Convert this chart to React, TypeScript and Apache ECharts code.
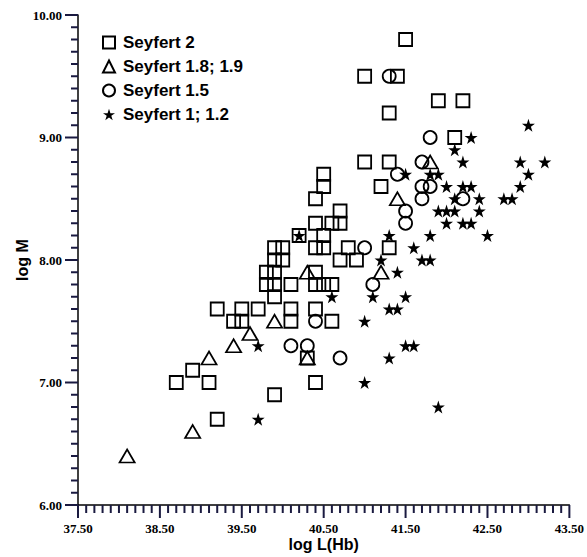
import React, { useEffect, useRef } from "react";
import * as echarts from "echarts";

const seriesNames = ["Seyfert 2", "Seyfert 1.8; 1.9", "Seyfert 1.5", "Seyfert 1; 1.2"];

const seyfert2: number[][] = [
  [41.5, 9.8], [41.0, 9.5], [41.4, 9.5], [41.3, 9.2], [41.9, 9.3], [42.2, 9.3],
  [42.1, 9.0], [41.0, 8.8], [41.3, 8.8], [41.2, 8.6], [40.5, 8.7], [40.5, 8.6],
  [40.4, 8.5], [40.7, 8.4], [40.4, 8.3], [40.6, 8.3], [40.7, 8.3], [40.2, 8.2],
  [40.5, 8.2], [40.4, 8.1], [40.5, 8.1], [40.8, 8.1], [40.7, 8.0], [40.9, 8.0],
  [41.3, 8.1], [39.9, 8.1], [40.0, 8.1], [39.9, 8.0], [40.0, 8.0], [39.8, 7.9],
  [39.9, 7.9], [39.8, 7.8], [39.9, 7.8], [40.1, 7.8], [39.9, 7.7], [40.4, 7.9],
  [40.4, 7.8], [40.5, 7.8], [40.6, 7.8], [40.1, 7.6], [40.1, 7.5], [40.4, 7.6],
  [40.6, 7.5], [39.7, 7.6], [39.2, 7.6], [39.5, 7.6], [39.4, 7.5], [39.5, 7.5],
  [40.3, 7.2], [40.4, 7.0], [39.9, 6.9], [38.9, 7.1], [38.7, 7.0], [39.1, 7.0],
  [39.2, 6.7],
];

const seyfert18: number[][] = [
  [41.8, 8.8], [41.4, 8.5], [40.3, 7.9], [41.2, 7.9], [39.9, 7.5], [39.6, 7.4],
  [39.4, 7.3], [39.1, 7.2], [40.3, 7.2], [38.9, 6.6], [38.1, 6.4],
];

const seyfert15: number[][] = [
  [41.3, 9.5], [41.8, 9.0], [41.7, 8.8], [41.4, 8.7], [41.7, 8.6], [41.8, 8.6],
  [41.7, 8.5], [42.2, 8.5], [41.5, 8.4], [41.5, 8.3], [41.0, 8.1], [41.1, 7.8],
  [40.4, 7.5], [40.1, 7.3], [40.3, 7.3], [40.7, 7.2],
];

const seyfert1: number[][] = [
  [43.0, 9.1], [42.3, 9.0], [42.1, 8.9], [42.2, 8.8], [42.9, 8.8], [43.2, 8.8],
  [41.5, 8.7], [41.8, 8.7], [41.9, 8.7], [43.0, 8.7], [42.0, 8.6], [42.2, 8.6],
  [42.3, 8.6], [42.9, 8.6], [42.1, 8.5], [42.4, 8.5], [42.7, 8.5], [42.8, 8.5],
  [41.9, 8.4], [42.0, 8.4], [42.1, 8.4], [42.4, 8.4], [42.0, 8.3], [42.2, 8.3],
  [42.3, 8.3], [40.2, 8.2], [41.3, 8.2], [41.8, 8.2], [42.5, 8.2], [41.6, 8.1],
  [41.2, 8.0], [41.7, 8.0], [41.8, 8.0], [41.4, 7.9], [40.6, 7.7], [41.1, 7.7],
  [41.5, 7.7], [41.3, 7.6], [41.4, 7.6], [41.0, 7.5], [39.7, 7.3], [41.5, 7.3],
  [41.6, 7.3], [41.3, 7.2], [41.0, 7.0], [39.7, 6.7], [41.9, 6.8],
];

const xRange = [37.5, 43.5];
const yRange = [6, 10];
const majorStep = 1;
const minorPerMajor = 10;

const STAR =
  "path://M50 0L61.2 34.5L97.6 34.5L68.2 55.9L79.4 90.5L50 69.1L20.6 90.5L31.8 55.9L2.4 34.5L38.8 34.5Z";

// tick marks along an axis: [value, isMajor]
function tickList(range: number[]) {
  const out: number[][] = [];
  const n = Math.round(((range[1] - range[0]) / majorStep) * minorPerMajor);
  for (let i = 0; i <= n; i++) {
    const v = range[0] + (i * majorStep) / minorPerMajor;
    out.push([Math.round(v * 1000) / 1000, i % minorPerMajor === 0 ? 1 : 0]);
  }
  return out;
}

function makeAxis(extra: any) {
  return {
    type: "value",
    interval: majorStep,
    splitLine: { show: false },
    axisLine: { show: true, onZero: false, lineStyle: { color: "#000", width: 1.5 } },
    axisTick: { show: false },
    nameMoveOverlap: false,
    nameTextStyle: { fontFamily: "Liberation Sans", fontWeight: "bold", fontSize: 16, color: "#000" },
    ...extra,
  };
}

const labelStyle = {
  show: true,
  color: "#000",
  fontFamily: "Liberation Serif",
  fontWeight: "bold",
  fontSize: 13,
  formatter: (v: number) => v.toFixed(2),
};

export default function App() {
  const ref = useRef<HTMLDivElement>(null);
  useEffect(() => {
    if (!ref.current) return;
    const chart = echarts.init(ref.current, undefined, { renderer: "svg" });
    const hollow = () => ({
      color: "transparent",
      borderColor: "#000",
      borderWidth: 1.8,
      opacity: 1,
    });
    const xTicks = tickList(xRange).map((t) => [t[0], yRange[0], t[1]]);
    const yTicks = tickList(yRange).map((t) => [xRange[0], t[0], t[1]]);
    const tickSeries = (data: number[][], dir: "x" | "y") => ({
      type: "custom",
      silent: true,
      clip: false,
      z: 10,
      data,
      renderItem: (_p: any, api: any) => {
        const pt = api.coord([api.value(0), api.value(1)]);
        const major = api.value(2) === 1;
        const len = major ? 13 : dir === "x" ? 8 : 7;
        return {
          type: "rect",
          shape:
            dir === "x"
              ? { x: pt[0] - 1, y: pt[1], width: 2, height: len }
              : { x: pt[0] - len, y: pt[1] - 1, width: len, height: 2 },
          style: { fill: "#1a1a40" },
        };
      },
    });
    chart.setOption({
      animation: false,
      backgroundColor: "#fff",
      grid: { left: 78, right: 17, top: 15, bottom: 52 },
      legend: {
        orient: "vertical",
        left: 102,
        top: 34,
        padding: 0,
        itemWidth: 12,
        itemHeight: 12,
        itemGap: 7,
        data: seriesNames,
        textStyle: {
          fontFamily: "Liberation Sans",
          fontWeight: "bold",
          fontSize: 17,
          color: "#000",
          padding: [0, 0, 0, 3],
        },
      },
      xAxis: makeAxis({
        min: xRange[0],
        max: xRange[1],
        name: "log L(Hb)",
        nameLocation: "middle",
        nameGap: 31,
        axisLabel: { ...labelStyle, margin: 17 },
      }),
      yAxis: makeAxis({
        min: yRange[0],
        max: yRange[1],
        name: "log M",
        nameLocation: "middle",
        nameRotate: 90,
        nameGap: 48,
        axisLabel: { ...labelStyle, margin: 16 },
      }),
      series: [
        tickSeries(xTicks, "x"),
        tickSeries(yTicks, "y"),
        { name: seriesNames[0], type: "scatter", data: seyfert2, symbol: "rect", symbolSize: 13, itemStyle: hollow() },
        { name: seriesNames[1], type: "scatter", data: seyfert18, symbol: "triangle", symbolSize: [15, 13], itemStyle: hollow() },
        { name: seriesNames[2], type: "scatter", data: seyfert15, symbol: "circle", symbolSize: 13, itemStyle: hollow() },
        { name: seriesNames[3], type: "scatter", data: seyfert1, symbol: STAR, symbolSize: 13, itemStyle: { color: "#000", opacity: 1 } },
      ],
    });
    return () => chart.dispose();
  }, []);
  return <div ref={ref} style={{ width: 587, height: 557, position: "absolute", left: 0, top: 0 }} />;
}
